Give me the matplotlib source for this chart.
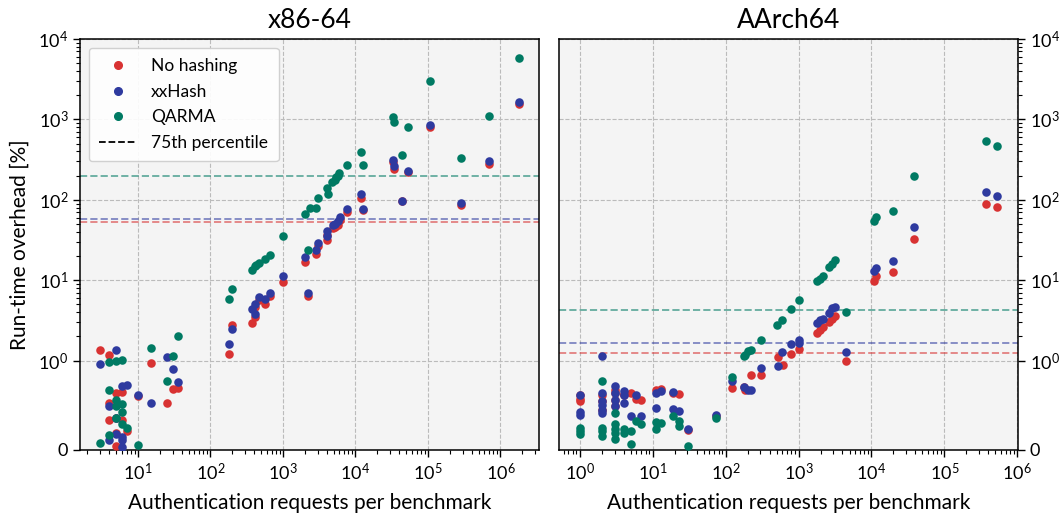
import numpy as np
import matplotlib
matplotlib.use('Agg')
import matplotlib.pyplot as plt
from matplotlib.ticker import FixedLocator, FuncFormatter, NullFormatter
from matplotlib.lines import Line2D

plt.rcParams['font.family'] = ['Lato', 'DejaVu Sans']
plt.rcParams['mathtext.fontset'] = 'custom'
plt.rcParams['mathtext.rm'] = 'Lato'
plt.rcParams['mathtext.it'] = 'Lato:italic'
plt.rcParams['mathtext.bf'] = 'Lato:bold'

# x86-64 measurements
x86_none_x = [3, 4, 5, 6, 4, 4, 6, 5, 7, 5, 5, 10, 15, 25, 30, 36, 182, 195,
              376, 405, 417, 474, 573, 670, 1000, 2023, 2200, 2870, 3085, 4000, 4070, 4840,
              5200, 5660, 6090, 7530, 11800, 12700, 32700, 34000, 53300, 44500, 105000,
              281000, 703000, 1.78e6]
x86_none_y = [1.37, 1.19, 0.64, 0.65, 0.53, 0.34, 0.34, 0.36, 0.21, 0.19, 0.05, 0.6, 0.97,
              0.53, 0.68, 0.69, 1.22, 2.8,
              2.9, 4.6, 3.5, 5.7, 5.1, 6.4, 9.4, 17, 6.4, 21, 27, 37, 32, 44,
              46, 48, 56, 71, 106, 74, 295, 243, 220, 96, 810,
              86, 282, 1540]
x86_xx_x = [3, 5, 6, 7, 4, 5, 5, 6, 6, 6, 4, 10, 15, 25, 30, 36, 182, 195,
            376, 405, 417, 474, 573, 670, 1000, 2023, 2200, 2870, 3085, 4000, 4070, 4840,
            5200, 5660, 6090, 7530, 11800, 12700, 32700, 34000, 53300, 44500, 105000,
            281000, 703000, 1.78e6]
x86_xx_y = [0.96, 1.37, 0.72, 0.73, 0.49, 0.36, 0.18, 0.15, 0.11, 0.03, 0.11, 0.61, 0.53,
            1.1, 0.91, 0.76, 1.62, 2.47,
            4.4, 5.0, 3.75, 6.2, 5.9, 7.0, 11.2, 19.5, 7.0, 24, 29, 40.5, 35, 49,
            50, 54, 62, 77, 117, 77, 315, 265, 228, 97, 851,
            92, 303, 1650]
x86_qarma_x = [3, 4, 5, 6, 4, 5, 5, 6, 6, 5, 6, 7, 4, 10, 15, 25, 30, 36, 182, 195,
               376, 405, 430, 474, 573, 670, 1000, 2023, 2200, 2365, 2866, 3085, 4000, 4130,
               4690, 5210, 5450, 5670, 5910, 7530, 11800, 12700, 32700, 34000, 53300, 44500,
               105000, 281000, 703000, 1.78e6]
x86_qarma_y = [0.08, 0.98, 1.0, 1.02, 0.67, 0.56, 0.49, 0.51, 0.43, 0.36, 0.29, 0.25, 0.17,
               0.06, 1.45, 0.77, 1.13, 2.05, 5.8, 7.7,
               13.6, 14.9, 15.5, 16.4, 18.6, 20.4, 35.8, 66, 24, 80, 80, 104, 140, 119,
               169, 177, 190, 199, 214, 272, 398, 272, 1080, 927, 811, 360,
               3030, 333, 1100, 5770]

# AArch64 measurements
arm_none_x = [1, 1, 1, 2, 2, 2, 3, 3, 3, 3, 4, 4, 5, 6, 7, 11, 13, 19, 23, 31, 75,
              124, 178, 185, 225, 301, 521, 610, 795, 1000, 1780, 1940, 2155, 2600, 2890,
              3210, 4500, 10800, 11600, 19700, 38700, 366000, 525000]
arm_none_y = [0.62, 0.57, 0.55, 0.62, 0.55, 0.45, 0.67, 0.64, 0.56, 0.49, 0.63, 0.61, 0.64,
              0.57, 0.56, 0.67, 0.68, 0.64, 0.63, 0.22, 0.38,
              0.69, 0.71, 0.67, 0.84, 0.84, 1.11, 0.955, 1.22, 1.41, 2.2, 2.4, 2.6, 3.0, 3.3,
              3.55, 1.0, 9.7, 11.2, 12.7, 33, 88, 82]
arm_xx_x = [1, 1, 1, 2, 2, 2, 2, 2, 2, 3, 3, 3, 3, 4, 4, 4, 5, 6, 7, 11, 11, 13, 19, 19,
            23, 31, 75, 124, 178, 202, 225, 301, 521, 597, 795, 1000, 1010, 1780, 1940,
            2155, 2600, 2890, 3210, 4500, 10800, 11600, 19700, 38700, 366000, 525000]
arm_xx_y = [0.61, 0.43, 0.39, 1.15, 0.64, 0.55, 0.50, 0.45, 0.41, 0.72, 0.64, 0.56, 0.49,
            0.66, 0.61, 0.53, 0.38, 0.61, 0.38, 0.64, 0.47, 0.66, 0.65, 0.46,
            0.44, 0.23, 0.39, 0.77, 0.70, 0.67, 0.67, 0.92, 0.94, 1.27, 1.63, 1.82, 1.67,
            2.9, 3.2, 3.3, 3.9, 4.5, 4.7, 1.27, 13.1, 14.4, 17.5, 46, 124, 111]
arm_qarma_x = [1, 1, 1, 2, 2, 2, 2, 3, 3, 3, 3, 3, 4, 4, 5, 5, 6, 7, 11, 11, 13, 19, 23, 23,
               31, 75, 124, 178, 185, 202, 225, 301, 510, 597, 795, 1000, 1780, 1940, 2155,
               2600, 2890, 3210, 4500, 10800, 11600, 19700, 38700, 366000, 525000]
arm_qarma_y = [0.25, 0.21, 0.18, 0.77, 0.25, 0.21, 0.16, 0.41, 0.29, 0.24, 0.19, 0.12, 0.24,
               0.19, 0.21, 0.07, 0.32, 0.29, 0.31, 0.24, 0.30, 0.38, 0.32, 0.27,
               0.045, 0.36, 0.82, 1.13, 1.19, 1.31, 1.37, 1.79, 2.8, 3.2, 4.4, 5.6, 9.7, 10.4,
               11.4, 14.7, 16.1, 17.7, 4.0, 55, 61, 73, 196, 535, 473]

# 75th percentiles
x86_p75 = [53, 57, 198]
arm_p75 = [1.26, 1.66, 4.3]

labels = ['No hashing', 'xxHash', 'QARMA']
colors = ['#d83232', '#2e3a9f', '#007a63']

fig = plt.figure(figsize=(10.62, 5.14), dpi=100)
ax1 = fig.add_axes([80/1062, 64/514, 459/1062, 411/514])
ax2 = fig.add_axes([559/1062, 64/514, 459/1062, 411/514])

yticks = [0, 1, 10, 100, 1000, 10000]
minor_y = [k * 10.0**d for d in range(0, 4) for k in range(2, 10)]

def pow_lab(v, pos):
    if v == 0:
        return '0'
    return r'$10^{%d}$' % int(round(np.log10(v)))

data = [
    (ax1, 'x86-64', [(x86_none_x, x86_none_y), (x86_xx_x, x86_xx_y), (x86_qarma_x, x86_qarma_y)],
     x86_p75, (1.585, 3.4e6)),
    (ax2, 'AArch64', [(arm_none_x, arm_none_y), (arm_xx_x, arm_xx_y), (arm_qarma_x, arm_qarma_y)],
     arm_p75, (0.52, 1.02e6)),
]

for ax, title, series, p75, xl in data:
    ax.set_facecolor('#f4f4f4')
    ax.set_xscale('log')
    ax.set_yscale('symlog', linthresh=1, linscale=1)
    for (xs, ys), c, lab in zip(series, colors, labels):
        ax.scatter(xs, ys, s=38, color=c, label=lab, zorder=3, linewidths=0)
    for v, c in zip(p75, colors):
        ax.axhline(v, color=c, ls='--', lw=1.4, alpha=0.55, zorder=2)
    ax.set_xlim(*xl)
    ax.set_ylim(0, 10000)
    # only ticks inside the view
    xmaj = [10.0**d for d in range(-1, 8) if xl[0] <= 10.0**d <= xl[1]]
    xmin_ = [k * 10.0**d for d in range(-1, 7) for k in range(2, 10) if xl[0] <= k * 10.0**d <= xl[1]]
    ax.xaxis.set_major_locator(FixedLocator(xmaj))
    ax.xaxis.set_minor_locator(FixedLocator(xmin_))
    ax.xaxis.set_major_formatter(FuncFormatter(pow_lab))
    ax.xaxis.set_minor_formatter(NullFormatter())
    ax.yaxis.set_major_locator(FixedLocator(yticks))
    ax.yaxis.set_minor_locator(FixedLocator(minor_y))
    ax.yaxis.set_major_formatter(FuncFormatter(pow_lab))
    ax.yaxis.set_minor_formatter(NullFormatter())
    ax.grid(True, which='major', ls='--', color='#bbbbbb', lw=0.8, zorder=0)
    ax.set_axisbelow(True)
    ax.set_title(title, fontsize=19, pad=8)
    ax.set_xlabel('Authentication requests per benchmark', fontsize=15, labelpad=7)
    ax.tick_params(which='both', labelsize=13, direction='out')
    ax.tick_params(which='major', length=5, width=1)
    ax.tick_params(which='minor', length=3, width=0.8)
    for sp in ax.spines.values():
        sp.set_linewidth(1.1)

ax1.set_ylabel('Run-time overhead [%]', fontsize=15, labelpad=6)
ax2.yaxis.tick_right()

handles = [Line2D([], [], ls='', marker='o', ms=5.5, color=c) for c in colors]
handles.append(Line2D([], [], ls='--', color='black', lw=1.3))
ax1.legend(handles, labels + ['75th percentile'], loc='upper left', fontsize=12.5,
           framealpha=0.9, borderpad=0.6, labelspacing=0.55, handlelength=2.2)

fig.savefig('out.png', dpi=100)
